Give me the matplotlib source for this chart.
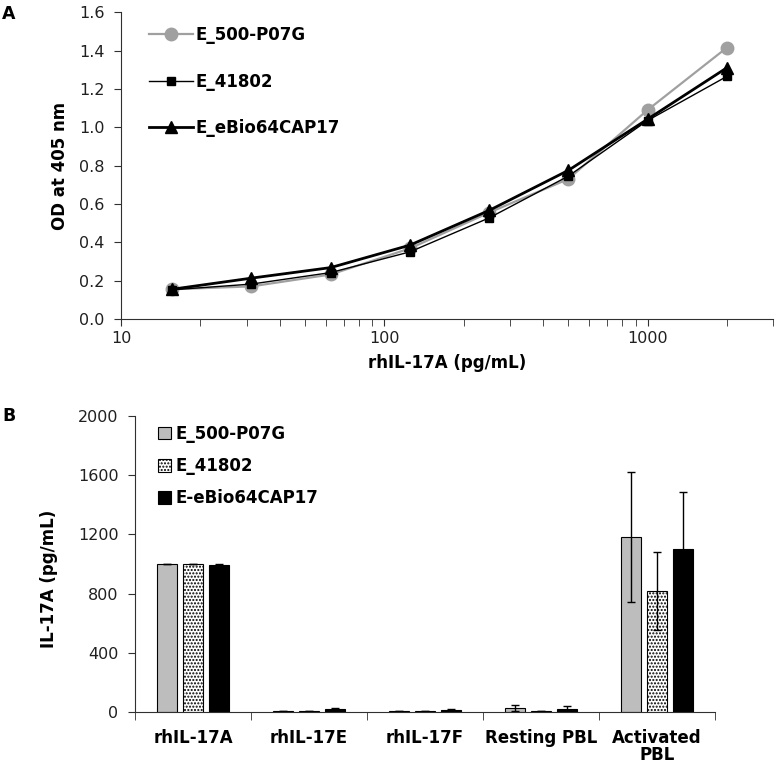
import numpy as np
import matplotlib
matplotlib.use("Agg")
import matplotlib.pyplot as plt
from matplotlib.ticker import FixedLocator, NullFormatter, LogLocator

plt.rcParams['font.family'] = ['DejaVu Sans']

# ---- panel A data ----
conc = [15.6, 31.25, 62.5, 125, 250, 500, 1000, 2000]
od_500 = [0.155, 0.17, 0.232, 0.368, 0.555, 0.73, 1.09, 1.415]
od_41802 = [0.152, 0.182, 0.242, 0.35, 0.527, 0.745, 1.035, 1.265]
od_ebio = [0.155, 0.213, 0.268, 0.385, 0.566, 0.775, 1.042, 1.31]
names_a = ['E_500-P07G', 'E_41802', 'E_eBio64CAP17']

# ---- panel B data ----
groups = ['rhIL-17A', 'rhIL-17E', 'rhIL-17F', 'Resting PBL', 'Activated\nPBL']
names_b = ['E_500-P07G', 'E_41802', 'E-eBio64CAP17']
il_500 = [1000, 8, 8, 25, 1182]
il_41802 = [1000, 8, 8, 8, 818]
il_ebio = [995, 20, 15, 22, 1101]
err_500 = [0, 0, 0, 20, 440]
err_41802 = [0, 0, 0, 0, 265]
err_ebio = [5, 5, 5, 20, 385]

fig = plt.figure(figsize=(7.77, 7.64), dpi=100)
axc = '#303030'

# ---------------- A ----------------
ax = fig.add_axes([0.156, 0.5825, 0.839, 0.4015])
ax.plot(conc, od_500, color='#a0a0a0', lw=1.6, marker='o', ms=9, label=names_a[0])
ax.plot(conc, od_41802, color='black', lw=1.0, marker='s', ms=6, label=names_a[1])
ax.plot(conc, od_ebio, color='black', lw=2.0, marker='^', ms=8, label=names_a[2])
ax.set_xscale('log')
ax.set_xlim(10, 3000)
ax.set_ylim(0, 1.6)
ax.set_yticks(np.arange(0, 1.61, 0.2))
ax.set_yticklabels(['%.1f' % v for v in np.arange(0, 1.61, 0.2)])
ax.set_xticks([10, 100, 1000])
ax.set_xticklabels(['10', '100', '1000'])
ax.xaxis.set_minor_locator(LogLocator(base=10, subs=np.arange(2, 10)))
ax.xaxis.set_minor_formatter(NullFormatter())
for s in ['top', 'right']:
    ax.spines[s].set_visible(False)
ax.spines['left'].set_color(axc)
ax.spines['bottom'].set_color(axc)
ax.tick_params(axis='both', which='major', labelsize=11.5, direction='out', length=5,
               color=axc, labelcolor='#202020')
ax.tick_params(axis='y', pad=7)
ax.tick_params(axis='x', which='minor', direction='out', length=5, color=axc)
ax.set_xlabel('rhIL-17A (pg/mL)', fontsize=12, fontweight='bold', labelpad=6)
ax.set_ylabel('OD at 405 nm', fontsize=12, fontweight='bold', labelpad=7)
ax.legend(loc='upper left', bbox_to_anchor=(0.02, 1.003), frameon=False,
          handlelength=2.6, labelspacing=1.7, handletextpad=0.2,
          prop={'size': 12, 'weight': 'bold'})

# ---------------- B ----------------
bx = fig.add_axes([0.174, 0.068, 0.746, 0.3875])
x = np.arange(len(groups))
w = 0.17
off = 0.224
ekw = dict(elinewidth=1, capsize=3, capthick=1, ecolor='black')
bx.bar(x - off, il_500, w, color='#bdbdbd', edgecolor='black', lw=0.8,
       label=names_b[0])
bx.bar(x, il_41802, w, color='white', edgecolor='black', lw=0.8, hatch='.....',
       label=names_b[1])
bx.bar(x + off, il_ebio, w, color='black', edgecolor='black', lw=0.8,
       label=names_b[2])
bx.errorbar(x - off, il_500, yerr=err_500, fmt='none', **ekw)
bx.errorbar(x, il_41802, yerr=err_41802, fmt='none', **ekw)
bx.errorbar(x + off, il_ebio, yerr=err_ebio, fmt='none', **ekw)
bx.set_xlim(-0.5, len(groups) - 0.5)
bx.set_ylim(0, 2000)
bx.set_yticks([0, 400, 800, 1200, 1600, 2000])
bx.set_xticks(x)
bx.set_xticklabels(groups, fontsize=12, fontweight='bold', linespacing=0.95)
bx.xaxis.set_minor_locator(FixedLocator(np.arange(-0.5, len(groups), 1.0)))
bx.tick_params(axis='x', which='major', length=0, pad=12)
bx.tick_params(axis='x', which='minor', length=6, direction='out', color=axc)
bx.tick_params(axis='y', labelsize=11.5, direction='out', length=5, color=axc,
               labelcolor='#202020', pad=7)
for s in ['top', 'right']:
    bx.spines[s].set_visible(False)
bx.spines['left'].set_color(axc)
bx.spines['bottom'].set_color(axc)
bx.set_ylabel('IL-17A (pg/mL)', fontsize=12, fontweight='bold')
bx.yaxis.set_label_coords(-0.134, 0.45)
bx.legend(loc='upper left', bbox_to_anchor=(0.014, 1.02), frameon=False,
          handlelength=0.75, handleheight=0.75, labelspacing=0.85, handletextpad=0.3,
          prop={'size': 12, 'weight': 'bold'})

fig.text(0.003, 0.982, 'A', fontsize=12.5, fontweight='bold', va='center')
fig.text(0.003, 0.455, 'B', fontsize=12.5, fontweight='bold', va='center')

fig.savefig('out.png', dpi=100)
